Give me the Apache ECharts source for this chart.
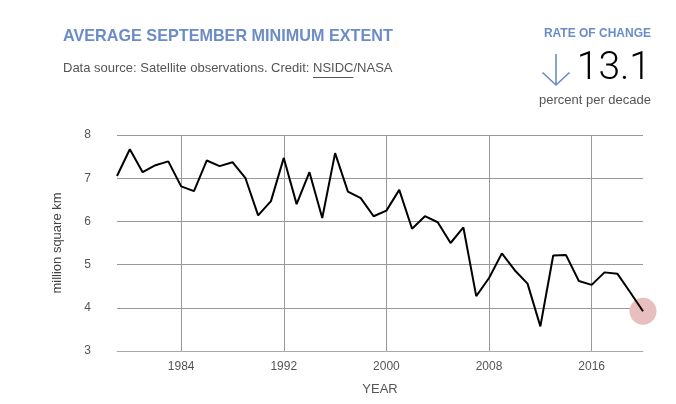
<!DOCTYPE html>
<html><head><meta charset="utf-8">
<script src="https://cdn.jsdelivr.net/npm/echarts@6/dist/echarts.min.js"></script>
<style>html,body{margin:0;padding:0;background:#fff}#c{width:676px;height:404px}</style>
</head><body><div id="c"></div>
<script>
const years = [1979,1980,1981,1982,1983,1984,1985,1986,1987,1988,1989,1990,1991,1992,1993,1994,1995,1996,1997,1998,1999,2000,2001,2002,2003,2004,2005,2006,2007,2008,2009,2010,2011,2012,2013,2014,2015,2016,2017,2018,2019,2020];
const extent = [7.05,7.67,7.14,7.30,7.39,6.81,6.70,7.41,7.28,7.37,7.01,6.14,6.47,7.47,6.40,7.14,6.08,7.58,6.69,6.54,6.12,6.25,6.73,5.83,6.12,5.98,5.50,5.86,4.27,4.69,5.26,4.87,4.56,3.57,5.21,5.22,4.62,4.53,4.82,4.79,4.36,3.92];
const yTicks = [3,4,5,6,7,8];
const xTickYears = [1984,1992,2000,2008,2016];
const titleText = 'AVERAGE SEPTEMBER MINIMUM EXTENT';
const subPre = 'Data source: Satellite observations. Credit: ';
const subLink = 'NSIDC';
const subPost = '/NASA';
const rateLabel = 'RATE OF CHANGE';
const rateValue = '13.1';
const rateUnit = 'percent per decade';

const cats = years.map(String);
const showTick = (i, v) => xTickYears.indexOf(Number(v)) >= 0;
const FONT = '"Liberation Sans", Arial, sans-serif';
const SUBFONT = '13px ' + FONT;
const ctx = document.createElement('canvas').getContext('2d');
ctx.font = SUBFONT;
const preW = ctx.measureText(subPre).width;
const linkW = ctx.measureText(subLink).width;
const subX = 63;

const chart = echarts.init(document.getElementById('c'), null, {renderer:'canvas'});
chart.setOption({
  animation: false,
  backgroundColor: '#fff',
  grid: {left:117, right:33, top:135, bottom:53},
  xAxis: {
    type: 'category', data: cats, boundaryGap: false,
    name: 'YEAR', nameLocation: 'middle', nameGap: 32,
    nameTextStyle: {color:'#555', fontSize:13, fontFamily:FONT},
    axisLine: {show:true, lineStyle:{color:'#aaa', width:1}},
    axisTick: {show:false},
    axisLabel: {interval: showTick, color:'#555', fontSize:12, fontFamily:FONT, margin:10},
    splitLine: {show:true, interval: showTick, lineStyle:{color:'#999', width:1}}
  },
  yAxis: {
    type: 'value', min: yTicks[0], max: yTicks[yTicks.length-1], interval: 1,
    name: 'million square km', nameLocation: 'middle', nameGap: 53, nameRotate: 90,
    nameTextStyle: {color:'#444', fontSize:13, fontFamily:FONT},
    axisLine: {show:false}, axisTick: {show:false},
    axisLabel: {color:'#555', fontSize:12, fontFamily:FONT, margin:26},
    splitLine: {show:true, lineStyle:{color:'#999', width:1}}
  },
  series: [
    {type:'scatter', data:[[cats[cats.length-1], extent[extent.length-1]]], symbolSize:27,
     itemStyle:{color:'#e8bebe', opacity:1}, z:1, silent:true},
    {type:'line', data: extent, showSymbol:false, symbol:'none',
     lineStyle:{color:'#000', width:2}, z:3}
  ],
  graphic: [
    {type:'text', left:63, top:29, style:{text:titleText, fill:'#6b8cc6', font:'bold 16.2px '+FONT}},
    {type:'text', left:subX, top:62, style:{text:subPre+subLink+subPost, fill:'#555', font:SUBFONT}},
    {type:'line', shape:{x1:subX+preW, y1:77.5, x2:subX+preW+linkW, y2:77.5}, style:{stroke:'#555', lineWidth:1}},
    {type:'text', right:25, top:28, style:{text:rateLabel, fill:'#6b8cc6', font:'bold 12px '+FONT, align:'right'}},
    {type:'polyline', shape:{points:[[556,54],[556,84]]}, style:{stroke:'#6b8cc6', lineWidth:1.6, fill:null}},
    {type:'polyline', shape:{points:[[542.5,72.5],[556,85],[569.5,72.5]]}, style:{stroke:'#6b8cc6', lineWidth:1.6, fill:null}},
    {type:'text', right:25, top:50, style:{text:rateValue, fill:'#000', font:'300 39px Roboto, '+FONT, align:'right'}},
    {type:'text', right:25, top:94, style:{text:rateUnit, fill:'#555', font:'13px '+FONT, align:'right'}}
  ]
});
</script></body></html>
